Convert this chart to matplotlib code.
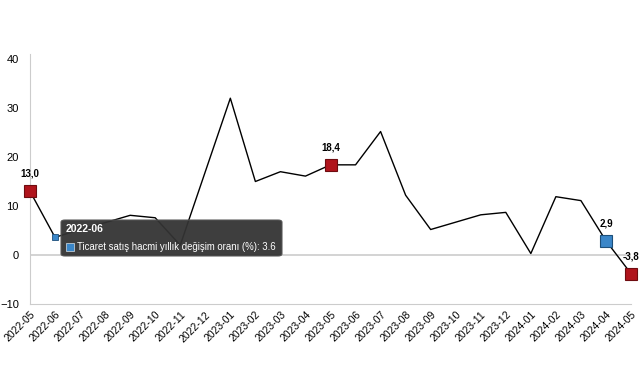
import matplotlib
matplotlib.use('Agg')
import matplotlib.pyplot as plt
from matplotlib.patches import FancyBboxPatch, Rectangle

plt.rcParams['font.family'] = ['Liberation Sans', 'DejaVu Sans']

months = ['2022-05', '2022-06', '2022-07', '2022-08', '2022-09', '2022-10', '2022-11',
          '2022-12', '2023-01', '2023-02', '2023-03', '2023-04', '2023-05', '2023-06',
          '2023-07', '2023-08', '2023-09', '2023-10', '2023-11', '2023-12', '2024-01',
          '2024-02', '2024-03', '2024-04', '2024-05']
values = [13.0, 3.6, 5.2, 6.6, 8.1, 7.6, 2.0, 17.0, 32.0, 15.0, 17.0, 16.1, 18.4, 18.4,
          25.2, 12.2, 5.2, 6.7, 8.2, 8.7, 0.3, 11.9, 11.1, 2.9, -3.8]
red_idx = [0, 12, 24]
blue_idx = [23]
label_idx = [0, 12, 23, 24]
yticks = [-10, 0, 10, 20, 30, 40]
tooltip_idx = 1
series_name = 'Ticaret satış hacmi yıllık değişim oranı (%)'

fig = plt.figure(figsize=(6.41, 3.80), dpi=100)
ax = fig.add_axes([30 / 641, 76 / 380, 601 / 641, 245 / 380])

x = list(range(len(months)))
ax.plot(x, values, color='black', lw=1, zorder=2)

# zero line
ax.axhline(0, color='#cccccc', lw=1.2, zorder=1)

for i in red_idx:
    ax.plot(x[i], values[i], marker='s', ms=8, mfc='#b0141c', mec='#6e0c10', mew=0.8,
            zorder=4, clip_on=False)
for i in blue_idx:
    ax.plot(x[i], values[i], marker='s', ms=8, mfc='#3a86c8', mec='#1d4f7a', mew=0.8,
            zorder=4, clip_on=False)
# hovered point
ax.plot(x[tooltip_idx], values[tooltip_idx], marker='s', ms=5, mfc='#3a86c8', mec='#1d4f7a',
        mew=0.6, zorder=4)

for i in label_idx:
    txt = f'{values[i]:.1f}'.replace('.', ',')
    ax.annotate(txt, (x[i], values[i]), xytext=(0, 9), textcoords='offset points',
                ha='center', va='bottom', fontsize=7, fontweight='bold', zorder=5,
                annotation_clip=False)

ax.set_xlim(0, len(months) - 1)
ax.set_ylim(-10, 40)
ax.set_yticks(yticks)
ax.set_xticks(x)
ax.set_xticklabels(months, rotation=45, ha='right', rotation_mode='anchor', fontsize=7.5)
ax.tick_params(axis='y', length=0, labelsize=8, pad=8)
ax.tick_params(axis='x', length=0, pad=4)

for s in ['top', 'right']:
    ax.spines[s].set_visible(False)
ax.spines['left'].set_color('#cccccc')
ax.spines['bottom'].set_color('#cccccc')
ax.spines['left'].set_bounds(-10, 41)

# tooltip
box = FancyBboxPatch((61 / 641, 1 - 256 / 380), 221 / 641, 36 / 380,
                     boxstyle='round,pad=0,rounding_size=0.006', transform=fig.transFigure,
                     fc='#333333', ec='#555555', lw=0.8, alpha=0.95, zorder=10)
fig.patches.append(box)
fig.text(66 / 641, 1 - 229 / 380, months[tooltip_idx], color='white', fontsize=7.5,
         fontweight='bold', va='center', ha='left', zorder=11)
fig.patches.append(Rectangle((66 / 641, 1 - 251 / 380), 8 / 641, 8 / 380,
                             transform=fig.transFigure, fc='#3a86c8', ec='#ffffff', lw=0.4,
                             zorder=11))
fig.text(77 / 641, 1 - 247 / 380, f'{series_name}: {values[tooltip_idx]}', color='white',
         fontsize=6.9, va='center', ha='left', zorder=11)

fig.savefig('out.png', dpi=100)
